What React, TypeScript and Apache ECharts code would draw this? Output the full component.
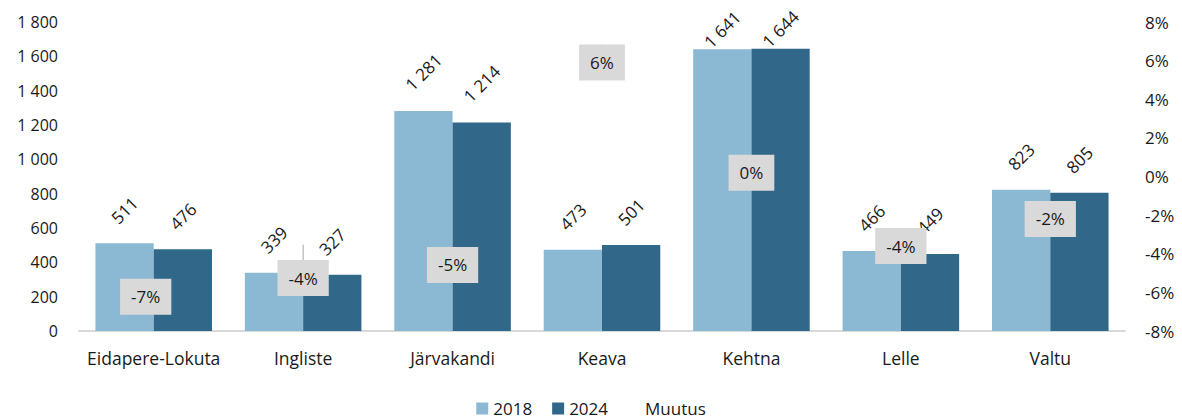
import React, { useEffect, useRef } from "react";
import * as echarts from "echarts";

const categories = ["Eidapere-Lokuta", "Ingliste", "Järvakandi", "Keava", "Kehtna", "Lelle", "Valtu"];
const values2018 = [511, 339, 1281, 473, 1641, 466, 823];
const values2024 = [476, 327, 1214, 501, 1644, 449, 805];
const change = [-6.8, -3.5, -5.2, 5.9, 0.2, -3.6, -2.2];
const changeLabelShift = [
  [-8, -11],
  [0, 34],
  [0, -12],
  [0, 0],
  [0, 0],
  [0, 0],
  [0, 0],
];

const FONT = "'Open Sans', sans-serif";
const TEXT = "#1a1a1a";
const C2018 = "#8BB9D3";
const C2024 = "#31688A";

const fmtThousands = (v: number) => String(v).replace(/\B(?=(\d{3})+(?!\d))/g, " ");

const barData = (vals: number[]) =>
  vals.map((v) => ({
    value: v,
    label: { distance: v > 1500 ? 20 : v >= 1000 ? 39 : 33 },
  }));

export default function App() {
  const ref = useRef<HTMLDivElement>(null);
  useEffect(() => {
    document.body.style.margin = "0";
    if (!ref.current) return;
    const chart = echarts.init(ref.current, null, { renderer: "svg" });
    const barLabel = {
      show: true,
      position: "top",
      rotate: 45,
      align: "center",
      verticalAlign: "middle",
      fontFamily: FONT,
      fontSize: 17,
      color: TEXT,
      formatter: (p: any) => fmtThousands(p.value),
    };
    chart.setOption({
      animation: false,
      textStyle: { fontFamily: FONT },
      grid: { left: 79, right: 57, top: 22, bottom: 88, containLabel: false, outerBoundsMode: "none" },
      legend: {
        bottom: -3,
        left: "center",
        itemWidth: 12,
        itemHeight: 12,
        itemGap: 20,
        icon: "rect",
        textStyle: { fontFamily: FONT, fontSize: 17, color: TEXT },
        data: ["2018", "2024", "Muutus"],
      },
      xAxis: {
        type: "category",
        data: categories,
        axisLine: { lineStyle: { color: "#D9D9D9", width: 2 } },
        axisTick: { show: false },
        axisLabel: { fontFamily: FONT, fontSize: 17.5, color: TEXT, margin: 18, interval: 0 },
      },
      yAxis: [
        {
          type: "value",
          min: 0,
          max: 1800,
          interval: 200,
          splitLine: { show: false },
          axisLine: { show: false },
          axisTick: { show: false },
          axisLabel: {
            fontFamily: FONT,
            fontSize: 16,
            color: TEXT,
            margin: 21,
            formatter: (v: number) => fmtThousands(v),
          },
        },
        {
          type: "value",
          min: -8,
          max: 8,
          interval: 2,
          splitLine: { show: false },
          axisLine: { show: false },
          axisTick: { show: false },
          axisLabel: {
            fontFamily: FONT,
            fontSize: 17,
            color: TEXT,
            margin: 20,
            formatter: (v: number) => `${v}%`,
          },
        },
      ],
      series: [
        {
          name: "2018",
          type: "bar",
          data: barData(values2018),
          itemStyle: { color: C2018 },
          barGap: "0%",
          barCategoryGap: "22%",
          label: barLabel,
        },
        {
          name: "2024",
          type: "bar",
          data: barData(values2024),
          itemStyle: { color: C2024 },
          barGap: "0%",
          barCategoryGap: "22%",
          label: barLabel,
        },
        {
          name: "Muutus",
          type: "scatter",
          yAxisIndex: 1,
          data: change,
          symbolSize: 1,
          itemStyle: { color: "rgba(0,0,0,0)", opacity: 1 },
          z: 10,
          label: {
            show: true,
            position: "inside",
            backgroundColor: "#D9D9D9",
            padding: [10, 11, 9, 11],
            fontFamily: FONT,
            fontSize: 17,
            color: TEXT,
            opacity: 1,
            formatter: (p: any) => `${Number(p.value).toFixed(0)}%`,
          },
          labelLine: { show: true, lineStyle: { color: "#A6A6A6", width: 1 } },
          labelLayout: (p: any) => ({
            dx: changeLabelShift[p.dataIndex][0],
            dy: changeLabelShift[p.dataIndex][1],
          }),
        },
      ],
    });
    return () => chart.dispose();
  }, []);
  return <div ref={ref} style={{ width: 1182, height: 419 }} />;
}
